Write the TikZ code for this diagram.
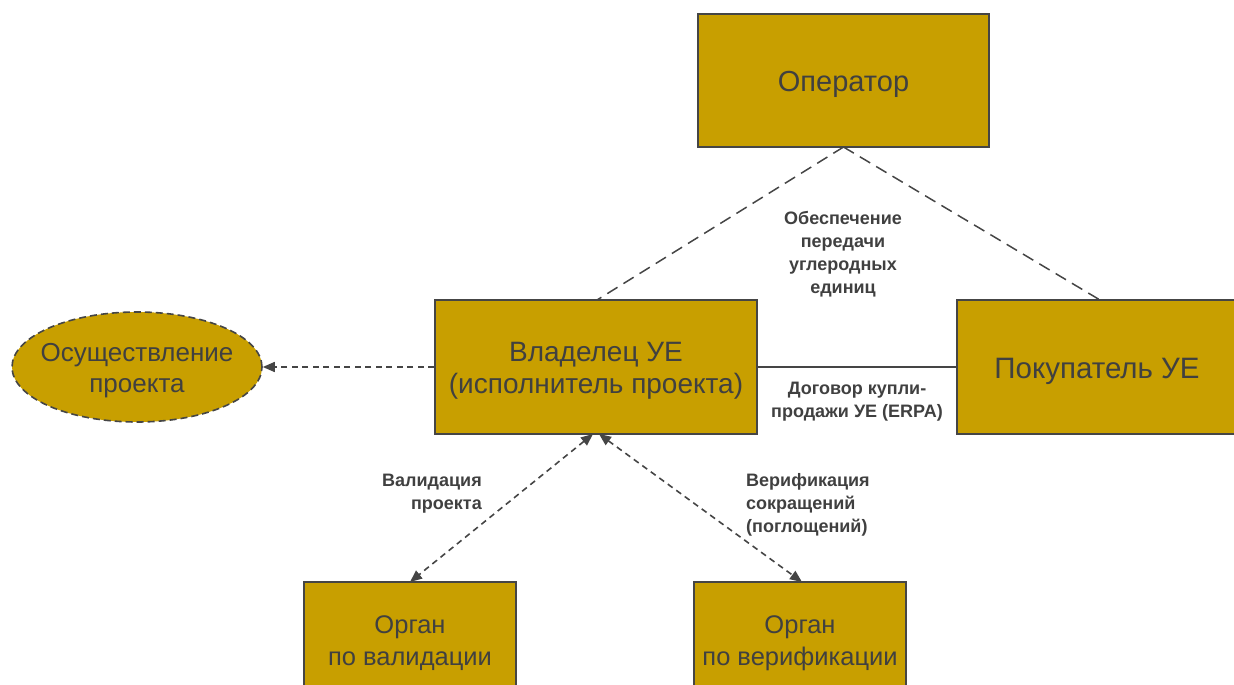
\documentclass[tikz,border=0pt]{standalone}
\usepackage{fontspec}
\setmainfont{Liberation Sans}
\usetikzlibrary{arrows.meta,shapes.geometric}
\definecolor{gold}{HTML}{C89F00}
\definecolor{edge}{HTML}{454545}
\definecolor{txt}{HTML}{404040}
\begin{document}
\begin{tikzpicture}[x=1pt,y=-1pt,
  box/.style={draw=edge,line width=2pt,fill=gold,inner sep=0pt},
  boxtext/.style={text=txt,align=center,inner sep=0pt,yshift=-4pt},
  lbl/.style={text=txt,font=\bfseries\fontsize{18}{23}\selectfont,inner sep=0pt},
  longdash/.style={draw=edge,line width=1.5pt,dash pattern=on 12pt off 7pt},
  shortdash/.style={draw=edge,line width=1.6pt,dash pattern=on 6pt off 4.5pt},
  dtip/.style={{Triangle[length=12pt,width=10pt]}-{Triangle[length=12pt,width=10pt]}}
]
\useasboundingbox (0,0) rectangle (1234,685);
\clip (0,0) rectangle (1234,685);
\node[box,minimum width=291pt,minimum height=133pt] (op) at (843.5,80.5) {};
\node[box,minimum width=322pt,minimum height=134pt] (own) at (596,367) {};
\node[box,minimum width=280pt,minimum height=134pt] (buy) at (1097,367) {};
\node[ellipse,draw=edge,line width=1.6pt,dash pattern=on 7pt off 4pt,fill=gold,
  minimum width=250pt,minimum height=110pt,inner sep=0pt] (impl) at (137,367) {};
\node[box,minimum width=212pt,minimum height=114pt] (val) at (410,639) {};
\node[box,minimum width=212pt,minimum height=114pt] (ver) at (800,639) {};
\node[boxtext,font=\fontsize{29}{34}\selectfont] (opT) at (op.center) {Оператор};
\node[boxtext,font=\fontsize{28}{32.5}\selectfont] (ownT) at (own.center) {Владелец УЕ\\(исполнитель проекта)};
\node[boxtext,font=\fontsize{29.5}{34}\selectfont] (buyT) at (buy.center) {Покупатель УЕ};
\node[boxtext,font=\fontsize{26}{31}\selectfont] (implT) at (impl.center) {Осуществление\\проекта};
\node[boxtext,font=\fontsize{25.5}{32}\selectfont] (valT) at (val.center) {Орган\\по валидации};
\node[boxtext,font=\fontsize{25.5}{32}\selectfont] (verT) at (ver.center) {Орган\\по верификации};
\coordinate (opb) at (843.5,147);
\coordinate (ownt) at (597,300);
\coordinate (buyt) at (1100,300);
\coordinate (ownb1) at (593,434);
\coordinate (ownb2) at (599,434);
\coordinate (valt) at (410,582);
\coordinate (vert) at (802,582);
\draw[longdash] (opb) -- (ownt);
\draw[longdash] (opb) -- (buyt);
\draw[draw=edge,line width=1.4pt] (own.east) -- (buy.west);
\draw[shortdash,-{Triangle[length=12pt,width=10pt]}] (own.west) -- (impl.east);
\draw[shortdash,dtip] (ownb1) -- (valt);
\draw[shortdash,dtip] (ownb2) -- (vert);
\node[lbl,align=center] (l1) at (843,254) {Обеспечение\\передачи\\углеродных\\единиц};
\node[lbl,align=center] (l2) at (857,402) {Договор купли-\\продажи УЕ (ERPA)};
\node[lbl,align=right,anchor=east] (l3) at (482,494) {Валидация\\проекта};
\node[lbl,align=left,anchor=west] (l4) at (746,505) {Верификация\\сокращений\\(поглощений)};
\end{tikzpicture}
\end{document}
